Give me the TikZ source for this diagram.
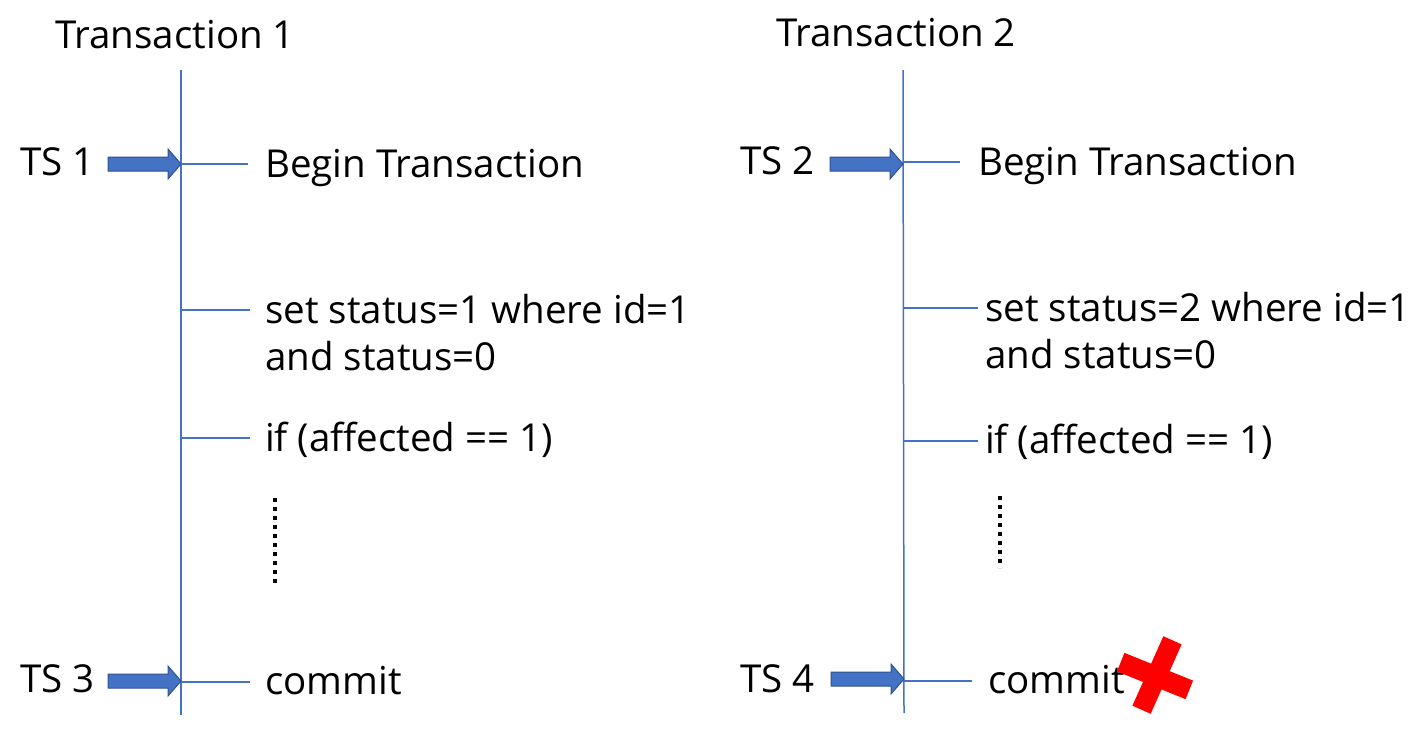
\documentclass[tikz,border=0pt]{standalone}
\usepackage{fontspec}
\setmainfont{Open Sans}
\definecolor{lineblue}{HTML}{4472C4}
\definecolor{arrowedge}{HTML}{2F528F}
\begin{document}
\begin{tikzpicture}[x=1pt,y=-1pt,
  lbl/.style={anchor=base west,inner sep=0pt,font=\fontsize{38.5}{46}\selectfont},
  vline/.style={lineblue,line width=1.5pt},
  tick/.style={lineblue,line width=1.2pt},
  dots/.style={line width=4pt,dash pattern=on 4pt off 5pt},
  blockarrow/.pic={\filldraw[fill=lineblue,draw=arrowedge,line width=1pt]
     (-73,-7) -- (-13,-7) -- (-13,-15) -- (0,0) -- (-13,15) -- (-13,7) -- (-73,7) -- cycle;},
  crossarm/.style={fill=red,inner sep=0pt,minimum height=20pt}]
\useasboundingbox (0,0) rectangle (1416,732);
% --- Transaction 1
\node[lbl] (t1) at (55,48) {Transaction 1};
\coordinate (l1top) at (181,70);
\coordinate (l1bot) at (181,715);
\draw[vline] (l1top) -- (l1bot);
\node[lbl] (ts1) at (20,175) {TS 1};
\pic at (181,164) {blockarrow};
\coordinate (a1) at (181,164); \coordinate (a1e) at (248,164);
\draw[tick] (a1) -- (a1e);
\node[lbl] (b1) at (265,177) {Begin Transaction};
\coordinate (s1) at (181,310); \coordinate (s1e) at (250,310);
\draw[tick] (s1) -- (s1e);
\node[lbl] (u1) at (265,323) {set status=1 where id=1};
\node[lbl] (u1b) at (265,370) {and status=0};
\coordinate (f1) at (181,438); \coordinate (f1e) at (250,438);
\draw[tick] (f1) -- (f1e);
\node[lbl] (if1) at (265,451) {if (affected == 1)};
\coordinate (d1a) at (275,498); \coordinate (d1b) at (275,586);
\draw[dots] (d1a) -- (d1b);
\node[lbl] (ts3) at (20,692) {TS 3};
\pic at (181,681) {blockarrow};
\coordinate (c1) at (181,682); \coordinate (c1e) at (250,682);
\draw[tick] (c1) -- (c1e);
\node[lbl] (cm1) at (265,694) {commit};
% --- Transaction 2
\node[lbl] (t2) at (776,46) {Transaction 2};
\coordinate (l2top) at (903,70);
\coordinate (l2bot) at (904,713);
\draw[vline] (l2top) -- (l2bot);
\node[lbl] (ts2) at (740,174) {TS 2};
\pic at (903,164) {blockarrow};
\coordinate (a2) at (903,162); \coordinate (a2e) at (960,162);
\draw[tick] (a2) -- (a2e);
\node[lbl] (b2) at (978,175) {Begin Transaction};
\coordinate (s2) at (903,308); \coordinate (s2e) at (978,308);
\draw[tick] (s2) -- (s2e);
\node[lbl] (u2) at (985,321) {set status=2 where id=1};
\node[lbl] (u2b) at (985,368) {and status=0};
\coordinate (f2) at (904,441); \coordinate (f2e) at (978,441);
\draw[tick] (f2) -- (f2e);
\node[lbl] (if2) at (985,453) {if (affected == 1)};
\coordinate (d2a) at (1000,496); \coordinate (d2b) at (1000,568);
\draw[dots] (d2a) -- (d2b);
\node[lbl] (ts4) at (740,692) {TS 4};
\pic at (904,679) {blockarrow};
\coordinate (c2) at (904,681); \coordinate (c2e) at (972,681);
\draw[tick] (c2) -- (c2e);
\node[lbl] (cm2) at (988,693) {commit};
% red cross
\node[crossarm,minimum width=74pt,rotate=-22] (xa) at (1155,676) {};
\node[crossarm,minimum width=76pt,rotate=66] (xb) at (1157,675) {};
\end{tikzpicture}
\end{document}
